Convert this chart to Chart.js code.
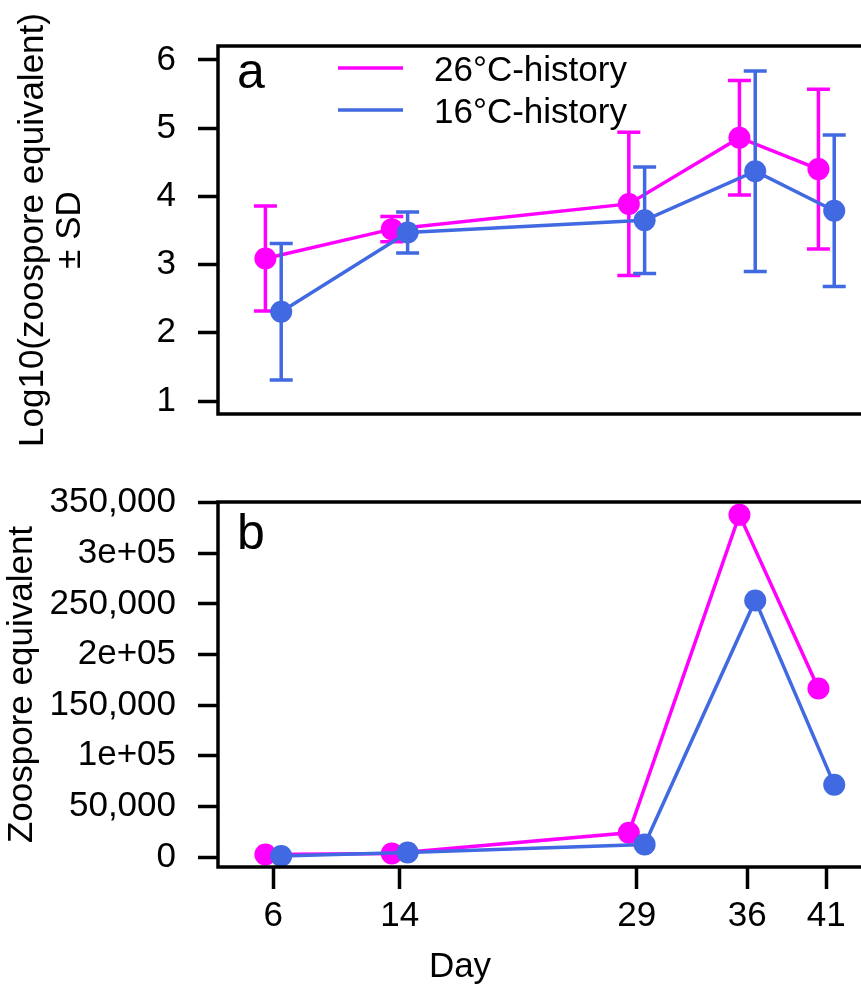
<!DOCTYPE html>
<html>
<head>
<meta charset="utf-8">
<script src="https://cdn.jsdelivr.net/npm/chart.js@4.4.0/dist/chart.umd.min.js"></script>
<style>
  html, body { margin: 0; padding: 0; background: #fff; overflow: hidden; }
  body { width: 861px; height: 989px; position: relative; }
  canvas { position: absolute; left: 0; }
  #logChart { top: 0; }
  #rawChart { top: 459px; }
</style>
</head>
<body>
<canvas id="logChart" width="880" height="459"></canvas>
<canvas id="rawChart" width="880" height="530"></canvas>
<script>
// sampling days and group names
const days = [6, 14, 29, 36, 41];
const groupNames = ['26°C-history', '16°C-history'];

// log10 zoospore equivalent, mean and SD per day
const logHot = [3.09, 3.52, 3.89, 4.86, 4.40];
const sdHot = [0.77, 0.185, 1.05, 0.84, 1.17];
const logCold = [2.31, 3.47, 3.65, 4.37, 3.79];
const sdCold = [1.00, 0.30, 0.78, 1.47, 1.11];

// raw zoospore equivalent per day
const rawHot = [2600, 3600, 24000, 338000, 166500];
const rawCold = [1000, 4600, 12500, 253500, 71500];

// axis ticks
const dayTicks = [6, 14, 29, 36, 41];
const logTicks = [1, 2, 3, 4, 5, 6];
const rawTicks = [0, 50000, 100000, 150000, 200000, 250000, 300000, 350000];
const rawTickLabels = ['0', '50,000', '1e+05', '150,000', '2e+05', '250,000', '3e+05', '350,000'];

const HOT = '#FF00FF';
const COLD = '#4169E1';
const DODGE = 0.5; // groups are shifted left/right of the sampling day
const FONT = '"Liberation Sans", Arial, sans-serif';
const TXT = 35;
const LW = 3.5;

Chart.defaults.font.family = FONT;
Chart.defaults.color = '#000';

function pts(values, shift) {
    return days.map((d, i) => ({ x: d + shift, y: values[i] }));
}

function lineSet(label, values, sd, color, shift, order) {
    return {
        label: label,
        data: pts(values, shift),
        sd: sd,
        borderColor: color,
        backgroundColor: color,
        borderWidth: LW,
        pointRadius: 11,
        pointHoverRadius: 11,
        pointBorderWidth: 0,
        pointBackgroundColor: color,
        tension: 0,
        order: order
    };
}

// error bars (mean +/- SD) drawn right after their own dataset
const errorBars = {
    id: 'errorBars',
    afterDatasetDraw(chart, args) {
        const ds = chart.data.datasets[args.index];
        if (!ds.sd) return;
        const { ctx, scales: { x, y } } = chart;
        ctx.save();
        ctx.strokeStyle = ds.borderColor;
        ctx.lineWidth = LW;
        ds.data.forEach((p, i) => {
            const px = x.getPixelForValue(p.x);
            const top = y.getPixelForValue(p.y + ds.sd[i]);
            const bot = y.getPixelForValue(p.y - ds.sd[i]);
            ctx.beginPath();
            ctx.moveTo(px, top); ctx.lineTo(px, bot);
            ctx.moveTo(px - 11.5, top); ctx.lineTo(px + 11.5, top);
            ctx.moveTo(px - 11.5, bot); ctx.lineTo(px + 11.5, bot);
            ctx.stroke();
        });
        ctx.restore();
    }
};

// frame, panel letter, legend and x title
const panelText = {
    id: 'panelText',
    afterDraw(chart, args, opts) {
        const { ctx, chartArea: a } = chart;
        ctx.save();
        ctx.strokeStyle = '#000';
        ctx.lineWidth = LW;
        ctx.strokeRect(a.left, a.top, a.right - a.left, a.bottom - a.top);

        ctx.fillStyle = '#000';
        ctx.textAlign = 'left';
        ctx.textBaseline = 'alphabetic';
        ctx.font = '50px ' + FONT;
        ctx.fillText(opts.letter, a.left + 19, a.top + opts.letterDrop);

        if (opts.legend) {
            ctx.font = TXT + 'px ' + FONT;
            const colors = [HOT, COLD];
            groupNames.forEach((name, i) => {
                const ly = a.top + 22 + i * 42;
                ctx.strokeStyle = colors[i];
                ctx.beginPath();
                ctx.moveTo(a.left + 120, ly);
                ctx.lineTo(a.left + 185, ly);
                ctx.stroke();
                ctx.fillText(name, a.left + 216, ly + 13);
            });
        }
        if (opts.xTitle) {
            ctx.font = TXT + 'px ' + FONT;
            ctx.textAlign = 'center';
            ctx.fillText(opts.xTitle, a.left + 242, a.bottom + 110);
        }
        ctx.restore();
    }
};

function yAxis(min, max, ticks, title, titlePad, labels) {
    return {
        min: min,
        max: max,
        afterFit: (s) => { s.width = 218; },
        afterBuildTicks: (s) => { s.ticks = ticks.map(v => ({ value: v })); },
        grid: { drawOnChartArea: false, tickLength: 20, tickWidth: LW, tickColor: '#000' },
        border: { display: false },
        ticks: {
            padding: 22,
            font: { size: TXT },
            color: '#000',
            callback: (v, i) => labels ? labels[i] : String(v)
        },
        title: {
            display: true,
            text: title,
            font: { size: TXT, lineHeight: 1.06 },
            color: '#000',
            padding: { top: titlePad, bottom: 0 }
        }
    };
}

function baseOptions(pad) {
    return {
        responsive: false,
        animation: false,
        events: [],
        layout: { padding: pad },
        plugins: { legend: { display: false }, tooltip: { enabled: false } }
    };
}

// panel a: log10 means with SD
const optsA = baseOptions({ top: 46, bottom: 45, left: 0, right: 5 });
optsA.scales = {
    x: { type: 'linear', min: 2.5, max: 43.7, display: false },
    y: yAxis(0.81, 6.205, logTicks, ['Log10(zoospore equivalent)', '± SD'], 14.5)
};
optsA.plugins.panelText = { letter: 'a', letterDrop: 42, legend: true };

new Chart(document.getElementById('logChart').getContext('2d'), {
    type: 'line',
    data: {
        datasets: [
            lineSet(groupNames[0], logHot, sdHot, HOT, -DODGE, 2),
            lineSet(groupNames[1], logCold, sdCold, COLD, DODGE, 1)
        ]
    },
    options: optsA,
    plugins: [errorBars, panelText]
});

// panel b: raw zoospore equivalent
const optsB = baseOptions({ top: 0, bottom: 0, left: 0, right: 5 });
optsB.scales = {
    x: {
        type: 'linear', min: 2.5, max: 43.7,
        afterFit: (s) => { s.height = 122; },
        afterBuildTicks: (s) => { s.ticks = dayTicks.map(v => ({ value: v })); },
        grid: { drawOnChartArea: false, tickLength: 22, tickWidth: LW, tickColor: '#000' },
        border: { display: false },
        ticks: { padding: 6.5, font: { size: TXT }, color: '#000', maxRotation: 0, autoSkip: false }
    },
    y: yAxis(-9800, 350700, rawTicks, 'Zoospore equivalent', 3.5, rawTickLabels)
};
optsB.plugins.panelText = { letter: 'b', letterDrop: 47, xTitle: 'Day' };

new Chart(document.getElementById('rawChart').getContext('2d'), {
    type: 'line',
    data: {
        datasets: [
            lineSet(groupNames[0], rawHot, null, HOT, -DODGE, 2),
            lineSet(groupNames[1], rawCold, null, COLD, DODGE, 1)
        ]
    },
    options: optsB,
    plugins: [errorBars, panelText]
});
</script>
</body>
</html>
